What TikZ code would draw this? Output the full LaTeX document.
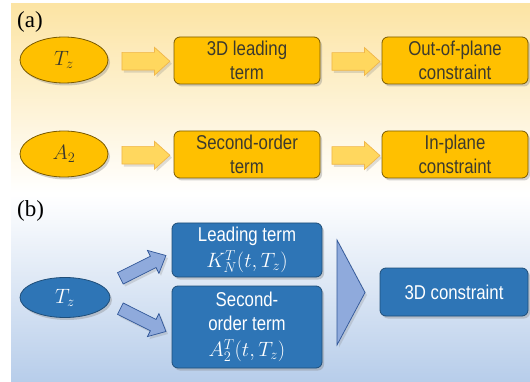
\documentclass[tikz,border=0pt]{standalone}
\usepackage{fontspec}
\setmainfont{Liberation Serif}
\setsansfont{Liberation Sans}[FakeStretch=0.84]
\usetikzlibrary{shapes.geometric,shapes.arrows,shadows,calc}
\definecolor{org}{HTML}{FFC000}
\definecolor{obrd}{HTML}{7A5A00}
\definecolor{otxt}{HTML}{3C3A2E}
\definecolor{oarrf}{HTML}{FFD75E}
\definecolor{oarrd}{HTML}{F0B64A}
\definecolor{blu}{HTML}{2E75B6}
\definecolor{bbrd}{HTML}{1F4E79}
\definecolor{barrf}{HTML}{8FAADC}
\definecolor{barrd}{HTML}{2F5597}
\definecolor{bgA}{HTML}{FCE4A4}
\definecolor{bgAm}{HTML}{FEF4D8}
\definecolor{bgB}{HTML}{B7CDEA}
\definecolor{bgBm}{HTML}{E4ECF6}
\newcommand{\mth}[1]{{\fontsize{20.74}{24}\selectfont$#1$}}
\begin{document}
\begin{tikzpicture}[x=1pt,y=-1pt,
  font=\sffamily\fontsize{20}{24}\selectfont,
  shd/.style={drop shadow={opacity=0.35,shadow xshift=2pt,shadow yshift=-2.5pt}},
  obox/.style={draw=obrd,line width=0.8pt,fill=org,rounded corners=6pt,
    minimum width=146pt,minimum height=47pt,align=center,text=otxt,inner sep=0pt,shd},
  oell/.style={ellipse,draw=obrd,line width=0.8pt,fill=org,minimum width=88pt,
    minimum height=46pt,inner sep=0pt,text=otxt,font=\fontsize{20.74}{24}\selectfont,shd},
  oarr/.style={single arrow,draw=oarrd,line width=0.7pt,fill=oarrf,minimum height=48pt,
    inner xsep=0pt,inner ysep=8.5pt,single arrow head extend=5pt,single arrow tip angle=84,
    drop shadow={opacity=0.25,shadow xshift=2pt,shadow yshift=-2.5pt}},
  bbox/.style={draw=bbrd,line width=0.8pt,fill=blu,rounded corners=6pt,
    minimum width=150pt,align=center,text=white,inner sep=0pt,shd},
  bell/.style={ellipse,draw=bbrd,line width=0.8pt,fill=blu,minimum width=90pt,
    minimum height=40pt,inner sep=0pt,text=white,font=\fontsize{20.74}{24}\selectfont,shd},
  barr/.style={single arrow,draw=barrd,line width=0.7pt,fill=barrf,minimum height=51pt,
    inner xsep=0pt,inner ysep=6pt,single arrow head extend=6.5pt,single arrow tip angle=84,
    drop shadow={opacity=0.25,shadow xshift=2pt,shadow yshift=-2.5pt}},
  lbl/.style={font=\rmfamily\fontsize{23}{25}\selectfont,anchor=west,inner sep=0pt}
]
\useasboundingbox (0,0) rectangle (530,382);
\fill[white] (0,0) rectangle (530,382);
% backgrounds
\shade[top color=bgA,middle color=bgAm,bottom color=white] (11,4) rectangle (530,193);
\shade[top color=white,middle color=bgBm,bottom color=bgB] (11,195) rectangle (530,382);

\node[lbl] (la) at (17,22) {(a)};
\node[lbl] (lb) at (17,211) {(b)};

% panel (a)
\node[oell] (tz) at (64,60) {$T_z$};
\node[obox] (lead) at (247,60.5) {3D leading\\term};
\node[obox] (oop) at (455,60.5) {Out-of-plane\\constraint};
\node[oarr] (a1) at ($(tz.east)!0.5!(lead.west)+(0,1)$) {};
\node[oarr] (a2) at ($(lead.east)!0.5!(oop.west)+(0,1)$) {};

\node[oell] (a2e) at (64,154) {$A_2$};
\node[obox] (sec) at (247,154.5) {Second-order\\term};
\node[obox] (inp) at (455,154.5) {In-plane\\constraint};
\node[oarr] (a3) at ($(a2e.east)!0.5!(sec.west)+(0,1)$) {};
\node[oarr] (a4) at ($(sec.east)!0.5!(inp.west)+(0,1)$) {};

% panel (b)
\node[bell] (btz) at (65,297.5) {$T_z$};
\node[bbox,minimum height=54pt] (blead) at (247,250) {Leading term\\[2pt]\mth{K_N^T(t,T_z)}};
\node[bbox,minimum height=82pt] (bsec) at (247,327) {Second-\\order term\\[2pt]\mth{A_2^T(t,T_z)}};
\node[bbox,minimum width=148pt,minimum height=48pt] (b3d) at (454,292) {3D constraint};
\node[barr,rotate=26.6] (b1) at (140,268.5) {};
\node[barr,rotate=-26.6] (b2) at (140,318.5) {};
\draw[draw=barrd,line width=0.7pt,fill=barrf,
  drop shadow={opacity=0.25,shadow xshift=2pt,shadow yshift=-2.5pt}]
  (337,240) -- (365,292.5) -- (337,345) -- cycle;
\end{tikzpicture}
\end{document}
